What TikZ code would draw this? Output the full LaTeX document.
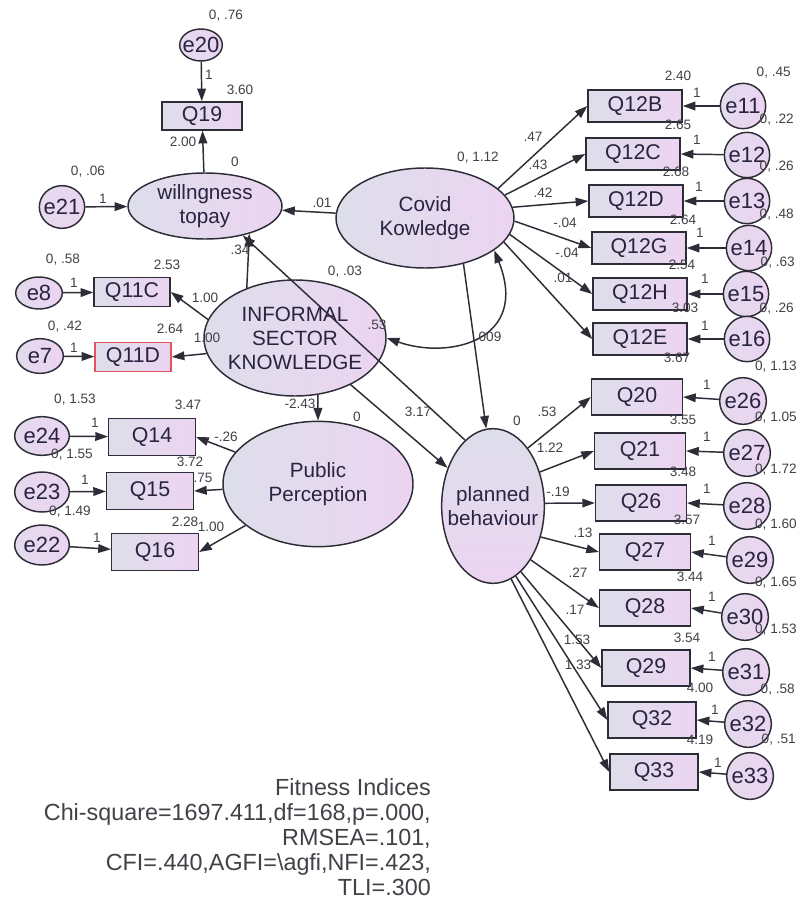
\documentclass[tikz,border=0pt]{standalone}
\usepackage{fontspec}
\setmainfont{Liberation Sans}
\usetikzlibrary{arrows.meta,shapes.geometric}
\definecolor{lineclr}{RGB}{45,45,55}
\definecolor{txtclr}{RGB}{40,35,65}
\definecolor{numclr}{RGB}{65,65,72}
\definecolor{shadeL}{RGB}{221,222,234}
\definecolor{shadeR}{RGB}{236,212,241}
\definecolor{flagred}{RGB}{228,84,96}
\tikzset{
    %Define standard arrow tip
    >={Triangle[length=9.5pt,width=6.5pt]},
    %Define style for observed variables
    obs/.style={
           rectangle,
           draw=lineclr, line width=1.1pt,
           left color=shadeL, right color=shadeR,
           text=txtclr,
           font=\fontsize{16}{18}\selectfont,
           inner sep=0pt},
    %Define style for latent variables
    lat/.style={
           ellipse,
           draw=lineclr, line width=1.1pt,
           left color=shadeL, right color=shadeR,
           text=txtclr,
           font=\fontsize{15.5}{18}\selectfont,
           align=center,
           inner sep=-25pt},
    %Define style for error terms
    err/.style={
           ellipse,
           draw=lineclr, line width=1.1pt,
           left color=shadeL!60!shadeR, right color=shadeR,
           text=txtclr,
           font=\fontsize{16.5}{18}\selectfont,
           inner sep=-8pt},
    % estimates
    num/.style={
           text=numclr,
           font=\fontsize{10.2}{11}\selectfont,
           inner sep=0pt},
    fitnote/.style={
           text=numclr,
           font=\fontsize{17.5}{18.75}\selectfont,
           align=right,
           inner sep=0pt},
    % Define arrow style
    pil/.style={
           ->,
           draw=lineclr,
           line width=1.1pt}
}
\begin{document}
\begin{tikzpicture}[x=0.75pt, y=-0.75pt]
    \useasboundingbox[fill=white] (0,0) rectangle (798,910);

    % LATENT VARIABLES
    \node[lat, minimum width=115.5pt, minimum height=49.5pt] (will) at (205,206) {willngness\\topay};
    \node[lat, minimum width=133.5pt, minimum height=75pt] (covid) at (425,218) {Covid\\Kowledge};
    \node[lat, minimum width=136.5pt, minimum height=87pt] (isk) at (295,338) {INFORMAL\\SECTOR\\KNOWLEDGE};
    \node[lat, minimum width=142.5pt, minimum height=94pt] (pub) at (318,484) {Public\\Perception};
    \node[lat, top color=shadeL, bottom color=shadeR, minimum width=77pt, minimum height=116pt] (plan) at (493,506) {planned\\behaviour};

    % OBSERVED VARIABLES
    \node[obs, minimum width=60pt, minimum height=21pt] (q19) at (202,116) {Q19};
    \node[obs, minimum width=57pt, minimum height=22pt] (q11c) at (132,292) {Q11C};
    \node[obs, draw=flagred, minimum width=57pt, minimum height=22pt] (q11d) at (133,357) {Q11D};
    \node[obs, minimum width=65pt, minimum height=28pt] (q14) at (152,437) {Q14};
    \node[obs, minimum width=65pt, minimum height=28pt] (q15) at (150,491) {Q15};
    \node[obs, minimum width=65pt, minimum height=28pt] (q16) at (155,552) {Q16};
    \node[obs, minimum width=70.5pt, minimum height=24pt] (q12b) at (635,106) {Q12B};
    \node[obs, minimum width=70.5pt, minimum height=24pt] (q12c) at (633,154) {Q12C};
    \node[obs, minimum width=70.5pt, minimum height=24pt] (q12d) at (636,201) {Q12D};
    \node[obs, minimum width=70.5pt, minimum height=24pt] (q12g) at (639,248) {Q12G};
    \node[obs, minimum width=70.5pt, minimum height=24pt] (q12h) at (640,294) {Q12H};
    \node[obs, minimum width=70.5pt, minimum height=24pt] (q12e) at (640,339) {Q12E};
    \node[obs, minimum width=68pt, minimum height=27pt] (q20) at (637,397) {Q20};
    \node[obs, minimum width=68pt, minimum height=27pt] (q21) at (640,451) {Q21};
    \node[obs, minimum width=68pt, minimum height=27pt] (q26) at (641,503) {Q26};
    \node[obs, minimum width=68pt, minimum height=27pt] (q27) at (645,552) {Q27};
    \node[obs, minimum width=68pt, minimum height=27pt] (q28) at (645,608) {Q28};
    \node[obs, minimum width=66pt, minimum height=27pt] (q29) at (646,668) {Q29};
    \node[obs, minimum width=66pt, minimum height=27pt] (q32) at (652,720) {Q32};
    \node[obs, minimum width=66pt, minimum height=27pt] (q33) at (654,772) {Q33};

    % ERROR TERMS
    \node[err, minimum width=32pt, minimum height=24pt] (e20) at (201,45) {e20};
    \node[err, minimum width=34pt, minimum height=32pt] (e21) at (62,207) {e21};
    \node[err, minimum width=35pt, minimum height=24pt] (e8) at (39,293) {e8};
    \node[err, minimum width=35pt, minimum height=26pt] (e7) at (40,356) {e7};
    \node[err, minimum width=41pt, minimum height=29pt] (e24) at (42,436) {e24};
    \node[err, minimum width=41pt, minimum height=30pt] (e23) at (42,492) {e23};
    \node[err, minimum width=41pt, minimum height=30pt] (e22) at (42,545) {e22};
    \node[err, minimum size=34pt] (e11) at (743,106) {e11};
    \node[err, minimum size=34pt] (e12) at (747,155) {e12};
    \node[err, minimum size=34pt] (e13) at (747,201) {e13};
    \node[err, minimum size=34pt] (e14) at (749,248) {e14};
    \node[err, minimum size=34pt] (e15) at (746,294) {e15};
    \node[err, minimum size=34pt] (e16) at (747,339) {e16};
    \node[err, minimum size=35pt] (e26) at (743,401) {e26};
    \node[err, minimum size=35pt] (e27) at (747,453) {e27};
    \node[err, minimum size=35pt] (e28) at (747,506) {e28};
    \node[err, minimum size=35pt] (e29) at (750,560) {e29};
    \node[err, minimum size=35pt] (e30) at (745,617) {e30};
    \node[err, minimum size=35pt] (e31) at (746,672) {e31};
    \node[err, minimum size=35pt] (e32) at (748,724) {e32};
    \node[err, minimum size=35pt] (e33) at (750,776) {e33};

    % PATHS
    \draw[pil] (e20) -- (q19);
    \draw[pil] (will) -- (q19);
    \draw[pil] (e21) -- (will);
    \draw[pil] (covid) -- (will);
    \draw[pil] (isk.134) -- (will.-32);
    \draw[pil] (plan.113) -- (will.-38);
    \draw[pil] (e8) -- (q11c);
    \draw[pil] (e7) -- (q11d);
    \draw[pil] (isk.168) -- (q11c.east);
    \draw[pil] (isk.190) -- (q11d.east);
    \draw[pil] (isk.-68) -- (pub);
    \draw[pil] (isk.-40) -- (plan.140);
    \draw[pil] (covid.-50) -- (plan.95);
    \draw[<->, draw=lineclr, line width=1.1pt] (isk.east) .. controls (450,360) and (530,340) .. (covid.-25);
    \draw[pil] (e24) -- (q14);
    \draw[pil] (e23) -- (q15);
    \draw[pil] (e22) -- (q16);
    \draw[pil] (pub) -- (q14.east);
    \draw[pil] (pub) -- (q15.east);
    \draw[pil] (pub) -- (q16.east);
    \draw[pil] (covid.22) -- (q12b.west);
    \draw[pil] (covid.16) -- (q12c.west);
    \draw[pil] (covid.7) -- (q12d.west);
    \draw[pil] (covid.-2) -- (q12g.west);
    \draw[pil] (covid.-11) -- (q12h.west);
    \draw[pil] (covid.-17) -- (q12e.west);
    \draw[pil] (e11) -- (q12b.east);
    \draw[pil] (e12) -- (q12c.east);
    \draw[pil] (e13) -- (q12d.east);
    \draw[pil] (e14) -- (q12g.east);
    \draw[pil] (e15) -- (q12h.east);
    \draw[pil] (e16) -- (q12e.east);
    \draw[pil] (plan.59) -- (q20.west);
    \draw[pil] (plan.36) -- (q21.west);
    \draw[pil] (plan.3) -- (q26.west);
    \draw[pil] (plan.-33) -- (q27.west);
    \draw[pil] (plan.-55) -- (q28.west);
    \draw[pil] (plan.-67) -- (q29.west);
    \draw[pil] (plan.-72) -- (q32.west);
    \draw[pil] (plan.-76) -- (q33.west);
    \draw[pil] (e26) -- (q20.east);
    \draw[pil] (e27) -- (q21.east);
    \draw[pil] (e28) -- (q26.east);
    \draw[pil] (e29) -- (q27.east);
    \draw[pil] (e30) -- (q28.east);
    \draw[pil] (e31) -- (q29.east);
    \draw[pil] (e32) -- (q32.east);
    \draw[pil] (e33) -- (q33.east);

    % ESTIMATES, left side
    \node[num] (v20) at (226,16) {0, .76};
    \node[num] (one20) at (209,75) {1};
    \node[num] (i19) at (240,90) {3.60};
    \node[num] (w19) at (183,142) {2.00};
    \node[num] (mwill) at (235,162) {0};
    \node[num] (v21) at (88,172) {0, .06};
    \node[num] (one21) at (103,199) {1};
    \node[num] (wcw) at (322,203) {.01};
    \node[num] (wiw) at (240,250) {.34};
    \node[num] (v8) at (63,260) {0, .58};
    \node[num] (one8) at (74,283) {1};
    \node[num] (i11c) at (167,265) {2.53};
    \node[num] (w11c) at (205,298) {1.00};
    \node[num] (v7) at (65,327) {0, .42};
    \node[num] (one7) at (74,348) {1};
    \node[num] (i11d) at (170,329) {2.64};
    \node[num] (w11d) at (207,338) {1.00};
    \node[num] (visk) at (345,272) {0, .03};
    \node[num] (cov) at (377,325) {.53};
    \node[num] (vcov) at (478,158) {0, 1.12};
    \node[num] (wcp) at (490,337) {009};
    \node[num] (wip) at (300,404) {-2.43};
    \node[num] (mpub) at (357,417) {0};
    \node[num] (wipl) at (418,412) {3.17};
    \node[num] (mplan) at (517,421) {0};
    \node[num] (v24) at (75,400) {0, 1.53};
    \node[num] (i14) at (188,405) {3.47};
    \node[num] (one24) at (95,423) {1};
    \node[num] (w14) at (226,437) {-.26};
    \node[num] (v23) at (72,455) {0, 1.55};
    \node[num] (i15) at (190,462) {3.72};
    \node[num] (one23) at (85,480) {1};
    \node[num] (w15) at (203,478) {.75};
    \node[num] (v22) at (70,512) {0, 1.49};
    \node[num] (i16) at (185,522) {2.28};
    \node[num] (w16) at (211,527) {1.00};
    \node[num] (one22) at (97,538) {1};

    % ESTIMATES, covid block
    \node[num] (w12b) at (533,137) {.47};
    \node[num] (w12c) at (538,165) {.43};
    \node[num] (w12d) at (543,193) {.42};
    \node[num] (w12g) at (565,223) {-.04};
    \node[num] (w12h) at (567,253) {-.04};
    \node[num] (w12e) at (563,278) {.01};
    \node[num] (i12b) at (678,76) {2.40};
    \node[num] (i12c) at (678,125) {2.65};
    \node[num] (i12d) at (676,172) {2.68};
    \node[num] (i12g) at (683,220) {2.64};
    \node[num] (i12h) at (682,265) {2.54};
    \node[num] (i12e) at (685,308) {3.03};
    \node[num] (one11) at (697,93) {1};
    \node[num] (one12) at (697,140) {1};
    \node[num] (one13) at (699,187) {1};
    \node[num] (one14) at (700,233) {1};
    \node[num] (one15) at (705,279) {1};
    \node[num] (one16) at (705,326) {1};
    \node[num, anchor=east] (v11) at (791,73) {0, .45};
    \node[num, anchor=east] (v12) at (794,120) {0, .22};
    \node[num, anchor=east] (v13) at (794,167) {0, .26};
    \node[num, anchor=east] (v14) at (794,215) {0, .48};
    \node[num, anchor=east] (v15) at (795,263) {0, .63};
    \node[num, anchor=east] (v16) at (794,309) {0, .26};

    % ESTIMATES, planned behaviour block
    \node[num] (w20) at (547,412) {.53};
    \node[num] (w21) at (550,448) {1.22};
    \node[num] (w26) at (558,492) {-.19};
    \node[num] (w27) at (583,533) {.13};
    \node[num] (w28) at (578,573) {.27};
    \node[num] (w29) at (575,610) {.17};
    \node[num] (w32) at (577,640) {1.53};
    \node[num] (w33) at (578,665) {1.33};
    \node[num] (i20) at (677,358) {3.67};
    \node[num] (i21) at (683,420) {3.55};
    \node[num] (i26) at (683,472) {3.48};
    \node[num] (i27) at (687,520) {3.57};
    \node[num] (i28) at (690,577) {3.44};
    \node[num] (i29) at (687,638) {3.54};
    \node[num] (i32) at (700,688) {4.00};
    \node[num] (i33) at (700,740) {4.19};
    \node[num] (one26) at (707,385) {1};
    \node[num] (one27) at (707,437) {1};
    \node[num] (one28) at (707,489) {1};
    \node[num] (one29) at (712,541) {1};
    \node[num] (one30) at (712,597) {1};
    \node[num] (one31) at (712,657) {1};
    \node[num] (one32) at (715,710) {1};
    \node[num] (one33) at (718,763) {1};
    \node[num, anchor=east] (v26) at (797,367) {0, 1.13};
    \node[num, anchor=east] (v27) at (797,418) {0, 1.05};
    \node[num, anchor=east] (v28) at (797,470) {0, 1.72};
    \node[num, anchor=east] (v29) at (797,525) {0, 1.60};
    \node[num, anchor=east] (v30) at (797,583) {0, 1.65};
    \node[num, anchor=east] (v31) at (797,630) {0, 1.53};
    \node[num, anchor=east] (v32) at (795,690) {0, .58};
    \node[num, anchor=east] (v33) at (796,740) {0, .51};

    % FIT
    \node[fitnote, anchor=north east] (fitidx) at (431,778) {Fitness Indices\\Chi-square=1697.411,df=168,p=.000,\\RMSEA=.101,\\CFI=.440,AGFI=\textbackslash agfi,NFI=.423,\\TLI=.300};
\end{tikzpicture}
\end{document}
